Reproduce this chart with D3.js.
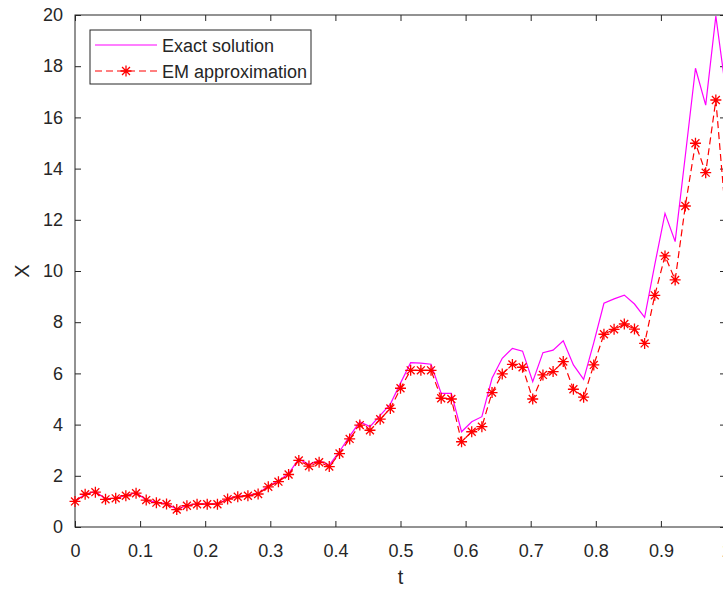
<!DOCTYPE html>
<html>
<head>
<meta charset="utf-8">
<script src="https://cdn.jsdelivr.net/npm/d3@7"></script>
<style>
  html, body { margin: 0; padding: 0; background: #fff; }
  svg { display: block; }
  text { font-family: "Liberation Sans", Arial, Helvetica, sans-serif; fill: #262626; }
</style>
</head>
<body>
<svg id="chart" width="723" height="589"></svg>
<script>
// ---- data ----
const tValues = [0, 0.0156, 0.0313, 0.0469, 0.0625, 0.0781, 0.0938, 0.1094, 0.125, 0.1406,
  0.1563, 0.1719, 0.1875, 0.2031, 0.2188, 0.2344, 0.25, 0.2656, 0.2813, 0.2969,
  0.3125, 0.3281, 0.3438, 0.3594, 0.375, 0.3906, 0.4063, 0.4219, 0.4375, 0.4531,
  0.4688, 0.4844, 0.5, 0.5156, 0.5313, 0.5469, 0.5625, 0.5781, 0.5938, 0.6094,
  0.625, 0.6406, 0.6563, 0.6719, 0.6875, 0.7031, 0.7188, 0.7344, 0.75, 0.7656,
  0.7813, 0.7969, 0.8125, 0.8281, 0.8438, 0.8594, 0.875, 0.8906, 0.9063, 0.9219,
  0.9375, 0.9531, 0.9688, 0.9844, 1];

const exactSolution = [1.00, 1.29, 1.38, 1.10, 1.13, 1.23, 1.34, 1.06, 0.96, 0.91,
  0.69, 0.84, 0.90, 0.90, 0.90, 1.10, 1.20, 1.24, 1.31, 1.60,
  1.80, 2.09, 2.66, 2.44, 2.59, 2.42, 2.95, 3.55, 4.11, 3.92,
  4.36, 4.80, 5.62, 6.42, 6.40, 6.36, 5.22, 5.22, 3.72, 4.11,
  4.31, 5.81, 6.59, 6.98, 6.87, 5.68, 6.81, 6.91, 7.27, 6.33,
  5.77, 7.20, 8.74, 8.91, 9.06, 8.71, 8.19, 10.25, 12.25, 11.15,
  14.5, 17.92, 16.48, 19.96, 17.0];

const emApproximation = [1.00, 1.28, 1.36, 1.08, 1.12, 1.22, 1.32, 1.05, 0.95, 0.90,
  0.68, 0.83, 0.89, 0.89, 0.89, 1.09, 1.18, 1.22, 1.29, 1.57,
  1.77, 2.05, 2.60, 2.38, 2.53, 2.36, 2.87, 3.44, 3.98, 3.78,
  4.21, 4.63, 5.42, 6.12, 6.12, 6.12, 5.03, 5.00, 3.33, 3.72,
  3.92, 5.25, 5.98, 6.35, 6.24, 5.00, 5.94, 6.07, 6.46, 5.38,
  5.07, 6.33, 7.53, 7.72, 7.93, 7.73, 7.17, 9.05, 10.59, 9.65,
  12.54, 14.99, 13.84, 16.68, 12.0];

const xTicks = [0, 0.1, 0.2, 0.3, 0.4, 0.5, 0.6, 0.7, 0.8, 0.9, 1];
const xTickLabels = ["0", "0.1", "0.2", "0.3", "0.4", "0.5", "0.6", "0.7", "0.8", "0.9", "1"];
const yTicks = [0, 2, 4, 6, 8, 10, 12, 14, 16, 18, 20];
const seriesNames = ["Exact solution", "EM approximation"];
const xLabel = "t";
const yLabel = "X";

// ---- layout ----
const L = 75, R = 726, T = 15, B = 527;
const svg = d3.select("#chart");
const x = d3.scaleLinear().domain([0, 1]).range([L, R]);
const y = d3.scaleLinear().domain([0, 20]).range([B, T]);
const axisColor = "#262626";
const tickFont = "18px";

// clip
svg.append("defs").append("clipPath").attr("id", "plotclip")
  .append("rect").attr("x", L).attr("y", T - 1).attr("width", R - L).attr("height", B - T + 2);

// axes
const gx = svg.append("g").attr("transform", `translate(0,${B})`)
  .call(d3.axisBottom(x).tickValues(xTicks).tickFormat((d, i) => xTickLabels[i]).tickSize(-6).tickPadding(17));
const gxTop = svg.append("g").attr("transform", `translate(0,${T})`)
  .call(d3.axisTop(x).tickValues(xTicks).tickFormat("").tickSize(-6));
const gy = svg.append("g").attr("transform", `translate(${L},0)`)
  .call(d3.axisLeft(y).tickValues(yTicks).tickFormat(d3.format("d")).tickSize(-6).tickPadding(12));
const gyR = svg.append("g").attr("transform", `translate(${R},0)`)
  .call(d3.axisRight(y).tickValues(yTicks).tickFormat("").tickSize(-6));

[gx, gxTop, gy, gyR].forEach(g => {
  g.select(".domain").remove();
  g.selectAll(".tick line").attr("stroke", axisColor).attr("stroke-width", 1);
  g.selectAll(".tick text").style("font-size", tickFont).style("font-family", '"Liberation Sans", Arial, sans-serif').attr("fill", axisColor);
});

// box
svg.append("rect").attr("x", L).attr("y", T).attr("width", R - L).attr("height", B - T)
  .attr("fill", "none").attr("stroke", axisColor).attr("stroke-width", 1);

// axis labels
svg.append("text").attr("x", x(0.5)).attr("y", 584).attr("text-anchor", "middle")
  .style("font-size", "20px").text(xLabel);
svg.append("text").attr("transform", `translate(29,${(T + B) / 2}) rotate(-90)`).attr("text-anchor", "middle")
  .style("font-size", "20px").text(yLabel);

// lines
const plotG = svg.append("g").attr("clip-path", "url(#plotclip)");
const exactData = tValues.map((t, i) => ({ t, v: exactSolution[i] }));
const emData = tValues.map((t, i) => ({ t, v: emApproximation[i] }));
const line = d3.line().x(d => x(d.t)).y(d => y(d.v));

plotG.append("path").datum(exactData).attr("d", line)
  .attr("fill", "none").attr("stroke", "#ff00ff").attr("stroke-width", 1.2);
plotG.append("path").datum(emData).attr("d", line)
  .attr("fill", "none").attr("stroke", "#ff0000").attr("stroke-width", 1.2).attr("stroke-dasharray", "7,4");

// asterisk markers
function asterisk(g, cx, cy, r) {
  const d = r * 0.72;
  const p = `M${cx - r},${cy}L${cx + r},${cy}M${cx},${cy - r}L${cx},${cy + r}` +
            `M${cx - d},${cy - d}L${cx + d},${cy + d}M${cx - d},${cy + d}L${cx + d},${cy - d}`;
  g.append("path").attr("d", p).attr("stroke", "#ff0000").attr("stroke-width", 1.3).attr("fill", "none");
}
const markG = svg.append("g");
emData.forEach(d => { if (x(d.t) <= 723) asterisk(markG, x(d.t), y(d.v), 5.5); });

// legend
const lg = svg.append("g");
lg.append("rect").attr("x", 90).attr("y", 30).attr("width", 221).attr("height", 54)
  .attr("fill", "#fff").attr("stroke", axisColor).attr("stroke-width", 1);
lg.append("line").attr("x1", 95).attr("x2", 157).attr("y1", 45).attr("y2", 45)
  .attr("stroke", "#ff00ff").attr("stroke-width", 1.2);
lg.append("line").attr("x1", 95).attr("x2", 157).attr("y1", 71).attr("y2", 71)
  .attr("stroke", "#ff0000").attr("stroke-width", 1.2).attr("stroke-dasharray", "7,4");
asterisk(lg, 126, 71, 5.5);
lg.append("text").attr("x", 162).attr("y", 52).style("font-size", "18px").text(seriesNames[0]);
lg.append("text").attr("x", 162).attr("y", 78).style("font-size", "18px").text(seriesNames[1]);
</script>
</body>
</html>
